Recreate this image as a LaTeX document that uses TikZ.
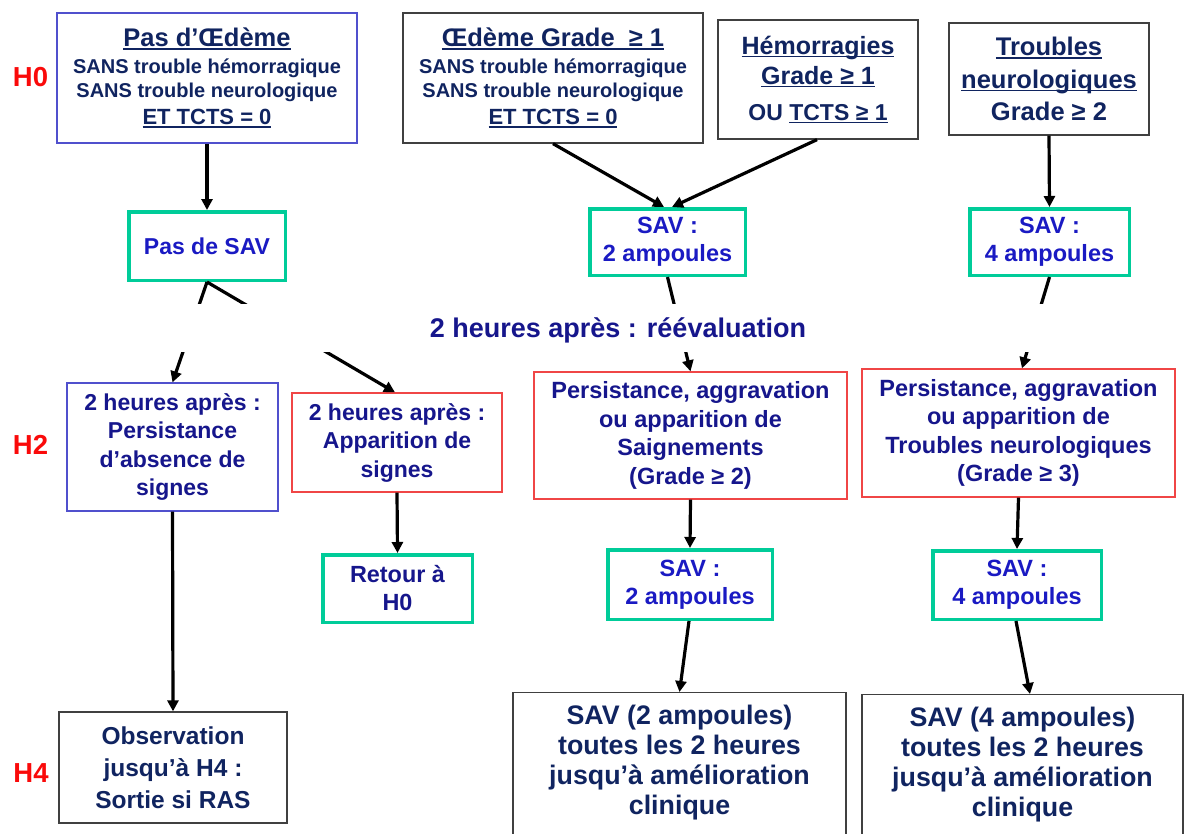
\documentclass[tikz,border=0pt]{standalone}
\usepackage{fontspec}
\setmainfont{Liberation Sans}
\usetikzlibrary{arrows.meta}
\definecolor{navy}{RGB}{16,36,96}
\definecolor{dblue}{RGB}{22,22,140}
\definecolor{sblue}{RGB}{26,26,195}
\definecolor{hred}{RGB}{250,10,10}
\definecolor{bordblue}{RGB}{80,80,205}
\definecolor{bordred}{RGB}{240,70,70}
\definecolor{bordgrey}{RGB}{64,64,64}
\definecolor{greenc}{RGB}{0,204,153}
\newcommand\uln[1]{\leavevmode\setbox0\hbox{#1}\rlap{\rule[-0.13em]{\wd0}{0.07em}}\box0}
\newcommand\fsz[2]{\fontsize{#1}{#2}\selectfont}
\begin{document}
\begin{tikzpicture}[x=1pt,y=-1pt,
  box/.style={draw, line width=1.3pt, align=center, inner sep=0pt, font=\bfseries},
  bluebox/.style={box, draw=bordblue},
  greybox/.style={box, draw=bordgrey},
  redbox/.style={box, draw=bordred},
  greenbox/.style={box, draw=greenc, line width=3.5pt},
  txt/.style={align=center, inner sep=0pt, font=\bfseries},
  hlab/.style={text=hred, inner sep=0pt, font=\bfseries\fsz{27.5}{30}},
  arr/.style={line width=3.2pt, -{Triangle[length=11pt,width=11pt]}}]
\useasboundingbox (0,0) rectangle (1186,833);
\clip (0,0) rectangle (1186,833);
\fill[white] (0,0) rectangle (1186,833);

% row labels
\node[hlab] (h0) at (30.5,77.5) {H0};
\node[hlab] (h2) at (30.5,445) {H2};
\node[hlab] (h4) at (31,773.5) {H4};

% H0 boxes
\node[bluebox, minimum width=300pt, minimum height=130pt, text=navy, font=\bfseries\fsz{20}{24}] (b1) at (207,78)
 {{\fsz{25.5}{24}\uln{Pas d’Œdème}}\\[3pt]
  SANS trouble hémorragique\\
  SANS trouble neurologique\\[3pt]
  {\fsz{22}{24}\uln{ET TCTS = 0}}};
\node[greybox, minimum width=300pt, minimum height=130pt, text=navy, font=\bfseries\fsz{20}{24}] (b2) at (553,78)
 {{\fsz{25.5}{24}\uln{Œdème Grade\ \ ≥ 1}}\\[3pt]
  SANS trouble hémorragique\\
  SANS trouble neurologique\\[3pt]
  {\fsz{22}{24}\uln{ET TCTS = 0}}};
\node[greybox, minimum width=200pt, minimum height=119pt, text=navy, font=\bfseries\fsz{25}{30}] (b3) at (818,79.5)
 {\uln{Hémorragies}\\
  \uln{Grade ≥ 1}\\[6pt]
  {\fsz{23}{30}OU \uln{TCTS ≥ 1}}};
\node[greybox, minimum width=200pt, minimum height=112pt, text=navy, font=\bfseries\fsz{25.5}{32.5}] (b4) at (1049,79)
 {\uln{Troubles}\\
  \uln{neurologiques}\\
  Grade ≥ 2};

% SAV boxes row 1
\node[greenbox, minimum width=156.5pt, minimum height=68.5pt, text=sblue, font=\bfseries\fsz{23}{28}] (nosav) at (207,246) {Pas de SAV};
\node[greenbox, minimum width=155.5pt, minimum height=66.5pt, text=sblue, font=\bfseries\fsz{23.5}{28}] (sav2) at (667.5,242) {SAV :\\2 ampoules};
\node[greenbox, minimum width=159.5pt, minimum height=66.5pt, text=sblue, font=\bfseries\fsz{23.5}{28}] (sav4) at (1049.5,242) {SAV :\\4 ampoules};

% H2 boxes
\node[bluebox, minimum width=211pt, minimum height=128pt, text=dblue, font=\bfseries\fsz{23}{28.5}] (pers) at (172.5,447)
 {2 heures après :\\Persistance\\d’absence de\\signes};
\node[redbox, minimum width=210pt, minimum height=99pt, text=dblue, font=\bfseries\fsz{23}{28.5}] (appar) at (397,442.5)
 {2 heures après :\\Apparition de\\signes};
\node[redbox, minimum width=313pt, minimum height=127pt, text=dblue, font=\bfseries\fsz{23.5}{28.5}] (saign) at (690.5,435.5)
 {Persistance, aggravation\\ou apparition de\\Saignements\\(Grade ≥ 2)};
\node[redbox, minimum width=313pt, minimum height=128pt, text=dblue, font=\bfseries\fsz{23.5}{28.5}] (troubn) at (1018.5,433)
 {Persistance, aggravation\\ou apparition de\\Troubles neurologiques\\(Grade ≥ 3)};

% second SAV row
\node[greenbox, minimum width=149.5pt, minimum height=67.5pt, text=dblue, font=\bfseries\fsz{23.4}{28}] (retour) at (397.5,588.5) {Retour à\\H0};
\node[greenbox, minimum width=164.5pt, minimum height=69.5pt, text=sblue, font=\bfseries\fsz{23.5}{28}] (savb2) at (690,584.5) {SAV :\\2 ampoules};
\node[greenbox, minimum width=168.5pt, minimum height=68.5pt, text=sblue, font=\bfseries\fsz{23.5}{28}] (savb4) at (1017,585) {SAV :\\4 ampoules};

% H4 boxes
\node[greybox, minimum width=228pt, minimum height=111pt, text=navy, font=\bfseries\fsz{24.5}{32}] (obs) at (173,767.5)
 {Observation\\jusqu’à H4 :\\Sortie si RAS};
\node[greybox, minimum width=333pt, minimum height=200pt, anchor=north] (bot2) at (679.5,692) {};
\node[txt, text=navy, font=\bfseries\fsz{26.8}{30}] (bot2t) at (679.5,763)
 {SAV (2 ampoules)\\toutes les 2 heures\\jusqu’à amélioration\\clinique};
\node[greybox, minimum width=321pt, minimum height=200pt, anchor=north] (bot4) at (1022.5,694) {};
\node[txt, text=navy, font=\bfseries\fsz{26.8}{30}] (bot4t) at (1022.5,765)
 {SAV (4 ampoules)\\toutes les 2 heures\\jusqu’à amélioration\\clinique};

% connectors
\draw[arr] (b1.south) -- (nosav.north);
\draw[arr] (b2.south) -- ([xshift=-3.5pt]sav2.north);
\draw[arr] ([xshift=-1pt]b3.south) -- ([xshift=4.5pt]sav2.north);
\draw[arr] (b4.south) -- (sav4.north);
\draw[arr] (nosav.south) -- (pers.north);
\draw[arr] (nosav.south) -- ([xshift=-2pt]appar.north);
\draw[arr] (sav2.south) -- (saign.north);
\draw[arr] (sav4.south) -- ([xshift=3.5pt]troubn.north);
\draw[arr] (saign.south) -- (savb2.north);
\draw[arr] (troubn.south) -- (savb4.north);
\draw[arr] ([xshift=-1pt]savb2.south) -- (bot2.north);
\draw[arr] ([xshift=-1pt]savb4.south) -- ([xshift=7.5pt]bot4.north);
\draw[arr] (pers.south) -- (obs.north);
\draw[arr] (appar.south) -- (retour.north);

% re-evaluation band
\fill[white] (0,304) rectangle (1186,352);
\node[txt, text=dblue, font=\bfseries\fsz{27}{30}] (reeval) at (618,330) {2 heures après : réévaluation};
\end{tikzpicture}
\end{document}
